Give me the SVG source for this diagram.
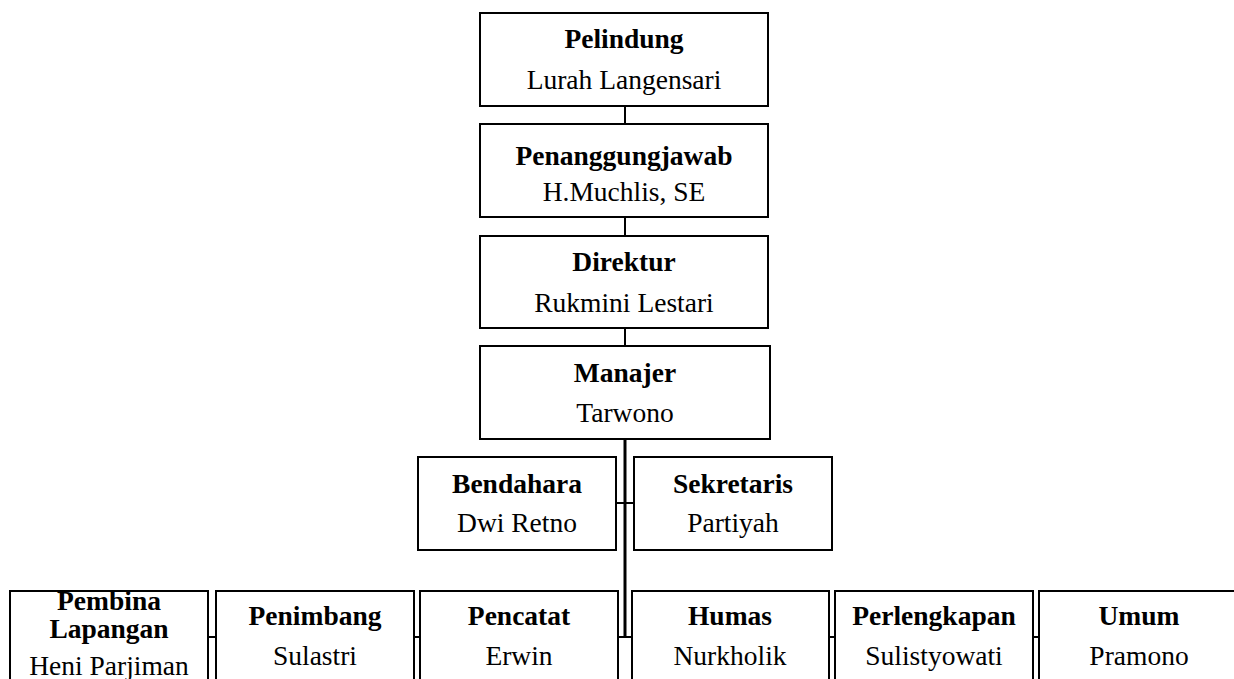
<svg xmlns="http://www.w3.org/2000/svg" width="1234" height="679" viewBox="0 0 1234 679">
<style>
.box{fill:#fff;stroke:#000;stroke-width:2}
.t{font-family:"Liberation Serif","Times New Roman",serif;font-size:27.5px;font-weight:bold;text-anchor:middle;fill:#000}
.n{font-family:"Liberation Serif","Times New Roman",serif;font-size:27.5px;text-anchor:middle;fill:#000}
.c{stroke:#000;stroke-width:2;fill:none}
.ct{stroke:#000;stroke-width:3;fill:none}
</style>
<rect width="1234" height="679" fill="#fff"/>
<g id="connectors">
<line class="c" x1="625" y1="106" x2="625" y2="124"/>
<line class="c" x1="625" y1="217" x2="625" y2="236"/>
<line class="c" x1="625" y1="328" x2="625" y2="346"/>
<line class="ct" x1="625" y1="439" x2="625" y2="638"/>
<line class="c" x1="616" y1="503" x2="634" y2="503"/>
<line class="c" x1="208" y1="637" x2="216" y2="637"/>
<line class="c" x1="414" y1="637" x2="420" y2="637"/>
<line class="c" x1="618" y1="637" x2="632" y2="637"/>
<line class="c" x1="829" y1="637" x2="835" y2="637"/>
<line class="c" x1="1033" y1="637" x2="1039" y2="637"/>
</g>
<g id="pelindung">
<rect class="box" x="480" y="13" width="288" height="93"/>
<text class="t" x="624" y="48">Pelindung</text>
<text class="n" x="624" y="89">Lurah Langensari</text>
</g>
<g id="penanggungjawab">
<rect class="box" x="480" y="124" width="288" height="93"/>
<text class="t" x="624" y="165">Penanggungjawab</text>
<text class="n" x="624" y="200.5">H.Muchlis, SE</text>
</g>
<g id="direktur">
<rect class="box" x="480" y="236" width="288" height="92"/>
<text class="t" x="624" y="271">Direktur</text>
<text class="n" x="624" y="311.5">Rukmini Lestari</text>
</g>
<g id="manajer">
<rect class="box" x="480" y="346" width="290" height="93"/>
<text class="t" x="625" y="382">Manajer</text>
<text class="n" x="625" y="421.5">Tarwono</text>
</g>
<g id="bendahara">
<rect class="box" x="418" y="457" width="198" height="93"/>
<text class="t" x="517" y="492.5">Bendahara</text>
<text class="n" x="517" y="532">Dwi Retno</text>
</g>
<g id="sekretaris">
<rect class="box" x="634" y="457" width="198" height="93"/>
<text class="t" x="733" y="492.5">Sekretaris</text>
<text class="n" x="733" y="532">Partiyah</text>
</g>
<g id="pembina">
<rect class="box" x="10" y="591" width="198" height="120"/>
<text class="t" x="109" y="610">Pembina</text>
<text class="t" x="109" y="638">Lapangan</text>
<text class="n" x="109" y="675">Heni Parjiman</text>
</g>
<g id="penimbang">
<rect class="box" x="216" y="591" width="198" height="120"/>
<text class="t" x="315" y="625">Penimbang</text>
<text class="n" x="315" y="665">Sulastri</text>
</g>
<g id="pencatat">
<rect class="box" x="420" y="591" width="198" height="120"/>
<text class="t" x="519" y="625">Pencatat</text>
<text class="n" x="519" y="665">Erwin</text>
</g>
<g id="humas">
<rect class="box" x="632" y="591" width="197" height="120"/>
<text class="t" x="730" y="625">Humas</text>
<text class="n" x="730" y="665">Nurkholik</text>
</g>
<g id="perlengkapan">
<rect class="box" x="835" y="591" width="198" height="120"/>
<text class="t" x="934" y="625">Perlengkapan</text>
<text class="n" x="934" y="665">Sulistyowati</text>
</g>
<g id="umum">
<rect class="box" x="1039" y="591" width="200" height="120"/>
<text class="t" x="1139" y="625">Umum</text>
<text class="n" x="1139" y="665">Pramono</text>
</g>
</svg>
